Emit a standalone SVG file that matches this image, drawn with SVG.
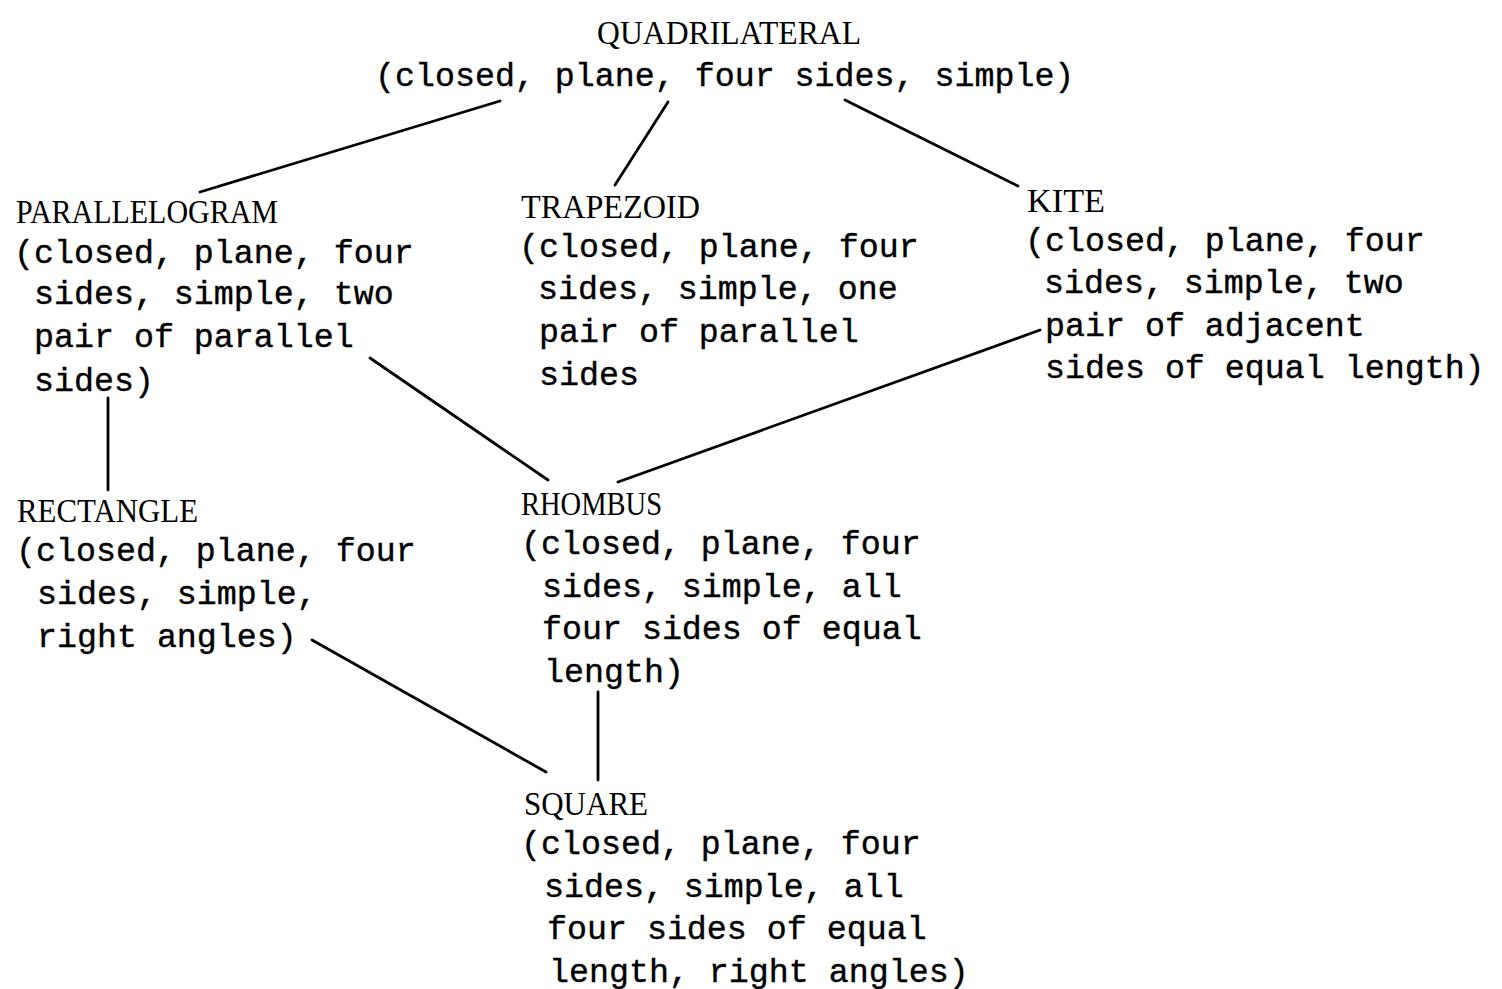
<svg xmlns="http://www.w3.org/2000/svg" width="1502" height="989" viewBox="0 0 1502 989">
<style>
.t{font-family:"Liberation Serif","Times New Roman",serif;font-size:33px;fill:#000}
.b{font-family:"Liberation Mono","Courier New",monospace;font-size:33.3px;fill:#000;stroke:#000;stroke-width:0.4}
.c line{stroke:#000;stroke-width:2.8;stroke-linecap:round}
</style>
<rect width="1502" height="989" fill="#fff"/>
<g class="c" id="connectors">
<line x1="500" y1="101" x2="200" y2="192"/>
<line x1="668" y1="102" x2="615" y2="185"/>
<line x1="845" y1="100" x2="1018" y2="186"/>
<line x1="370" y1="358" x2="548" y2="480"/>
<line x1="1040" y1="330" x2="618" y2="482"/>
<line x1="108" y1="398" x2="108" y2="490"/>
<line x1="312" y1="640" x2="546" y2="772"/>
<line x1="598" y1="692" x2="598" y2="780"/>
</g>
<g id="quadrilateral">
<text class="t" x="597" y="44" textLength="264" lengthAdjust="spacingAndGlyphs">QUADRILATERAL</text>
<text class="b" x="375" y="86">(closed, plane, four sides, simple)</text>
</g>
<g id="parallelogram">
<text class="t" x="16" y="223" textLength="262" lengthAdjust="spacingAndGlyphs">PARALLELOGRAM</text>
<text class="b" x="14" y="263">(closed, plane, four</text>
<text class="b" x="34" y="304">sides, simple, two</text>
<text class="b" x="34" y="347">pair of parallel</text>
<text class="b" x="34" y="391">sides)</text>
</g>
<g id="trapezoid">
<text class="t" x="521" y="218" textLength="179" lengthAdjust="spacingAndGlyphs">TRAPEZOID</text>
<text class="b" x="519" y="257">(closed, plane, four</text>
<text class="b" x="538" y="299">sides, simple, one</text>
<text class="b" x="539" y="342">pair of parallel</text>
<text class="b" x="539" y="385">sides</text>
</g>
<g id="kite">
<text class="t" x="1027" y="212" textLength="78" lengthAdjust="spacingAndGlyphs">KITE</text>
<text class="b" x="1025" y="251">(closed, plane, four</text>
<text class="b" x="1044" y="293">sides, simple, two</text>
<text class="b" x="1045" y="336">pair of adjacent</text>
<text class="b" x="1045" y="378">sides of equal length)</text>
</g>
<g id="rhombus">
<text class="t" x="521" y="515" textLength="141" lengthAdjust="spacingAndGlyphs">RHOMBUS</text>
<text class="b" x="521" y="554">(closed, plane, four</text>
<text class="b" x="542" y="597">sides, simple, all</text>
<text class="b" x="542" y="639">four sides of equal</text>
<text class="b" x="544" y="682">length)</text>
</g>
<g id="rectangle">
<text class="t" x="17" y="522" textLength="181" lengthAdjust="spacingAndGlyphs">RECTANGLE</text>
<text class="b" x="16" y="561">(closed, plane, four</text>
<text class="b" x="37" y="604">sides, simple,</text>
<text class="b" x="37" y="647">right angles)</text>
</g>
<g id="square">
<text class="t" x="524" y="815" textLength="124" lengthAdjust="spacingAndGlyphs">SQUARE</text>
<text class="b" x="521" y="854">(closed, plane, four</text>
<text class="b" x="544" y="897">sides, simple, all</text>
<text class="b" x="547" y="939">four sides of equal</text>
<text class="b" x="549" y="982">length, right angles)</text>
</g>
</svg>
